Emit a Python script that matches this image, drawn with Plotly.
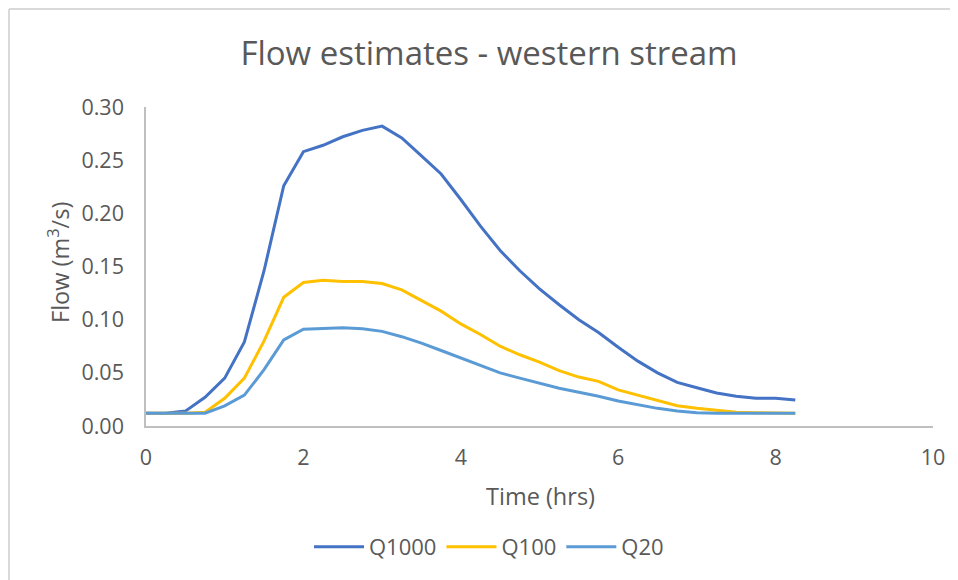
import plotly.graph_objects as go

time_hrs = [0, 0.25, 0.5, 0.75, 1.0, 1.25, 1.5, 1.75, 2.0, 2.25, 2.5, 2.75, 3.0, 3.25,
            3.5, 3.75, 4.0, 4.25, 4.5, 4.75, 5.0, 5.25, 5.5, 5.75, 6.0, 6.25, 6.5, 6.75,
            7.0, 7.25, 7.5, 7.75, 8.0, 8.25]

q1000 = [0.012, 0.012, 0.014, 0.027, 0.045, 0.079, 0.146, 0.226, 0.258, 0.264, 0.272, 0.278,
         0.282, 0.271, 0.254, 0.237, 0.213, 0.188, 0.165, 0.146, 0.129, 0.114, 0.100, 0.088,
         0.074, 0.061, 0.050, 0.041, 0.036, 0.031, 0.028, 0.026, 0.026, 0.0245]

q100 = [0.012, 0.012, 0.012, 0.013, 0.026, 0.045, 0.080, 0.121, 0.135, 0.137, 0.136, 0.136,
        0.134, 0.128, 0.118, 0.108, 0.096, 0.086, 0.075, 0.067, 0.060, 0.052, 0.046, 0.042,
        0.034, 0.029, 0.024, 0.019, 0.0166, 0.0148, 0.013, 0.0125, 0.012, 0.012]

q20 = [0.012, 0.012, 0.012, 0.012, 0.019, 0.029, 0.053, 0.081, 0.091, 0.0915, 0.0925, 0.0915,
       0.089, 0.084, 0.078, 0.071, 0.064, 0.057, 0.050, 0.045, 0.040, 0.0355, 0.0317, 0.028,
       0.0235, 0.0198, 0.0166, 0.014, 0.0125, 0.012, 0.012, 0.012, 0.012, 0.012]

series_names = ["Q1000", "Q100", "Q20"]
series_colors = ["#4472C4", "#FFC000", "#5B9BD5"]
y_ticks = [0, 0.05, 0.10, 0.15, 0.20, 0.25, 0.30]
x_ticks = [0, 2, 4, 6, 8, 10]

fig = go.Figure()
for name, vals, col in zip(series_names, [q1000, q100, q20], series_colors):
    fig.add_trace(go.Scatter(x=time_hrs, y=vals, mode="lines", name=name,
                             line=dict(color=col, width=3)))

font_family = "Open Sans, Lato, sans-serif"
txt = "#595959"
W, H = 958, 580
OFF = 7  # page offset of the figure in the browser
ml, mt = 145 - OFF, 106 - OFF
mr = W - (932 - OFF)
mb = H - (425 - OFF)
pw, ph = W - ml - mr, H - mt - mb

def px_x(sx):
    return (sx - OFF - ml) / pw

def px_y(sy):
    return (H - (sy - OFF) - mb) / ph

fig.update_layout(
    width=W, height=H,
    margin=dict(l=ml, r=mr, t=mt, b=mb),
    paper_bgcolor="white", plot_bgcolor="white",
    font=dict(family=font_family, color=txt, size=21),
    title=dict(text="Flow estimates - western stream", xref="container",
               x=(488 - OFF) / W, xanchor="center",
               y=1 - (52 - OFF) / H, yanchor="middle",
               font=dict(size=33, color=txt, family=font_family)),
    xaxis=dict(range=[0, 10], tickvals=x_ticks, ticktext=[str(v) for v in x_ticks],
               showgrid=False, zeroline=False, showline=True, linecolor="#BFBFBF",
               linewidth=1.5, ticks="", ticklabelstandoff=11,
               tickfont=dict(size=21.5, color=txt)),
    yaxis=dict(range=[0, 0.30], tickvals=y_ticks, ticktext=[f"{v:.2f}" for v in y_ticks],
               showgrid=False, zeroline=False, showline=True, linecolor="#BFBFBF",
               linewidth=1.5, ticks="", ticklabelstandoff=16,
               tickfont=dict(size=21.5, color=txt)),
    legend=dict(orientation="h", x=px_x(488), xanchor="center", y=px_y(546),
                yanchor="middle", font=dict(size=22, color=txt), itemwidth=50,
                bgcolor="rgba(0,0,0,0)"),
    showlegend=True,
)

fig.add_annotation(text="Time (hrs)", xref="paper", yref="paper",
                   x=px_x(539), y=px_y(495), xanchor="center", yanchor="middle",
                   showarrow=False, font=dict(size=23.5, color=txt))
fig.add_annotation(text="Flow (m<sup>3</sup>/s)", xref="paper", yref="paper",
                   x=px_x(57), y=px_y(262), xanchor="center", yanchor="middle",
                   textangle=-90, showarrow=False, font=dict(size=23.5, color=txt))

# outer chart border (Excel chart area frame): only top and left edges are visible
border = dict(color="#D9D9D9", width=2)
fig.add_shape(type="line", xref="paper", yref="paper",
              x0=px_x(OFF + 1), x1=px_x(W + 20), y0=px_y(OFF + 1), y1=px_y(OFF + 1),
              line=border, layer="below")
fig.add_shape(type="line", xref="paper", yref="paper",
              x0=px_x(OFF + 1), x1=px_x(OFF + 1), y0=px_y(OFF + 1), y1=px_y(H + 20),
              line=border, layer="below")

fig.write_html("out.html")
